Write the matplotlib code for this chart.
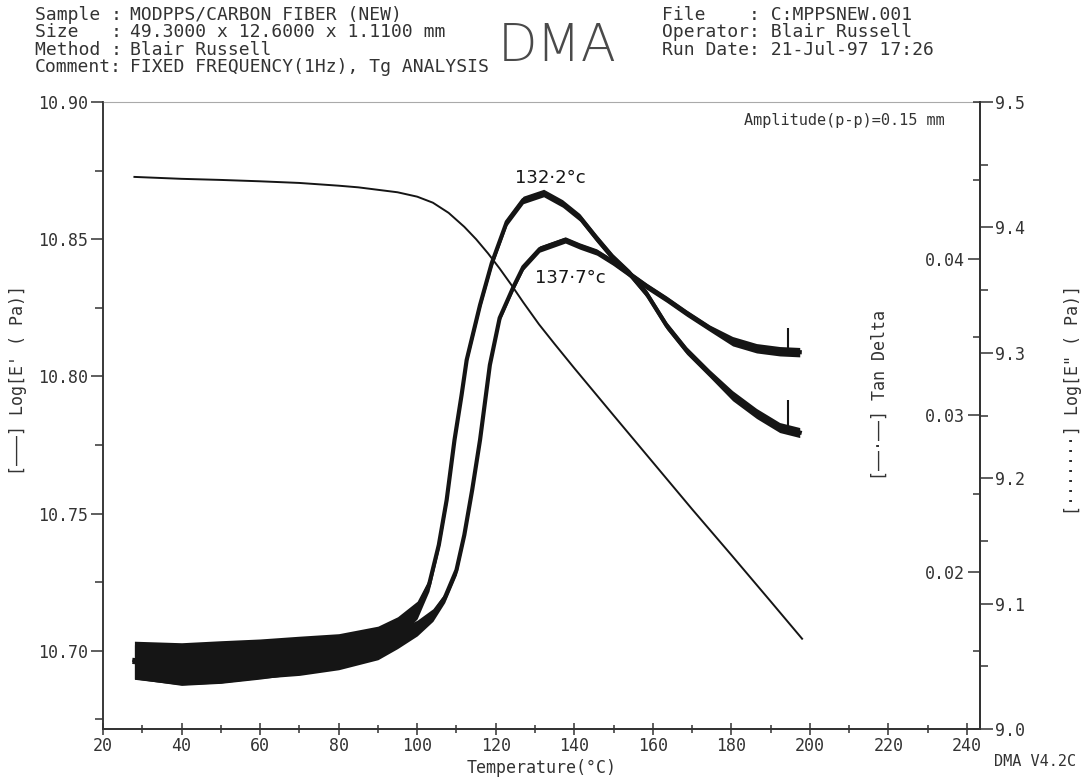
import numpy as np
import matplotlib
matplotlib.use("Agg")
import matplotlib.pyplot as plt
from matplotlib.ticker import MultipleLocator, FormatStrFormatter

# --- data read off the DMA print-out ---
# storage modulus, left axis
T_storage = [28, 40, 50, 60, 70, 80, 85, 90, 95, 100, 104, 108, 112, 115, 118,
             121, 124, 127, 131, 135, 140, 150, 160, 170, 180, 190, 198]
log_storage = [10.8727, 10.8720, 10.8716, 10.8711, 10.8705, 10.8695, 10.8689,
               10.8680, 10.8671, 10.8655, 10.8633, 10.8596, 10.8545, 10.8500,
               10.8449, 10.8393, 10.8333, 10.8270, 10.8190, 10.8118, 10.8030,
               10.7858, 10.7687, 10.7516, 10.7349, 10.7180, 10.7044]

# loss modulus, right axis (peak 132.2 C)
T_loss = [28, 40, 50, 60, 70, 80, 90, 95, 100, 103, 105.5, 107.5, 109.5, 111.3,
          112.6, 116, 119, 122.8, 127, 132.2, 137, 141.4, 145.7, 149.8, 154.1,
          158.4, 163.5, 168.6, 174.5, 180.3, 186.4, 192.3, 197.4]
log_loss = [9.0550, 9.0518, 9.0534, 9.0558, 9.0590, 9.0630, 9.0710, 9.0805,
            9.0949, 9.1148, 9.1467, 9.1826, 9.2305, 9.2663, 9.2943, 9.3381,
            9.3716, 9.4043, 9.4219, 9.4274, 9.4191, 9.4080, 9.3912, 9.3760,
            9.3632, 9.3472, 9.3217, 9.3018, 9.2834, 9.2658, 9.2516, 9.2404,
            9.2364]
loss_spread = [0.015, 0.017, 0.017, 0.016, 0.015, 0.013, 0.011, 0.009, 0.007,
               0.005, 0.004, 0.004, 0.003, 0.003, 0.003, 0.003, 0.003, 0.003,
               0.003, 0.003, 0.003, 0.003, 0.003, 0.003, 0.003, 0.003, 0.003,
               0.003, 0.003, 0.004, 0.004, 0.004, 0.004]

# tan delta (peak 137.7 C)
T_tan = [28, 40, 50, 60, 70, 80, 90, 95, 100, 104, 107, 110, 112, 114, 116,
         118.5, 121, 124.5, 127, 131.2, 137.7, 141.4, 145.7, 149.8, 154.1,
         158.4, 163.5, 168.6, 174.5, 180.3, 186.4, 192.3, 197.4]
tan_delta = [0.01427, 0.01402, 0.01414, 0.01433, 0.01452, 0.01478, 0.01522,
             0.01573, 0.01644, 0.01727, 0.01836, 0.02014, 0.02238, 0.02525,
             0.02844, 0.03322, 0.03622, 0.03820, 0.03947, 0.04062, 0.04120,
             0.04081, 0.04043, 0.03979, 0.03902, 0.03825, 0.03742, 0.03653,
             0.03557, 0.03474, 0.03429, 0.03410, 0.03404]
tan_spread = [0.0011, 0.0012, 0.0012, 0.0011, 0.0011, 0.0010, 0.0008, 0.0006,
              0.0005, 0.0004, 0.0003, 0.0003, 0.0002, 0.0002, 0.0002, 0.0002,
              0.0002, 0.0002, 0.0002, 0.0002, 0.0002, 0.0002, 0.0002, 0.0002,
              0.0002, 0.0002, 0.0002, 0.0002, 0.0002, 0.0003, 0.0003, 0.0003,
              0.0003]

# single-point glitches near the end of the run
T_glitch = 194.3
loss_glitch = [9.2390, 9.2625]
tan_glitch = [0.03408, 0.03560]

x_ticks = [20, 40, 60, 80, 100, 120, 140, 160, 180, 200, 220, 240]
header_keys = ["Sample :", "Size   :", "Method :", "Comment:"]
header_vals = ["MODPPS/CARBON FIBER (NEW)",
               "49.3000 x 12.6000 x 1.1100 mm",
               "Blair Russell",
               "FIXED FREQUENCY(1Hz), Tg ANALYSIS"]
header_right = ["File    : C:MPPSNEW.001",
                "Operator: Blair Russell",
                "Run Date: 21-Jul-97 17:26"]

ink = "#151515"
grey = "#333333"
plt.rcParams["font.family"] = "DejaVu Sans Mono"

fig = plt.figure(figsize=(10.86, 7.83), dpi=100)
W, H = 1086, 783
ax = fig.add_axes([103 / W, 1 - 729 / H, (980 - 103) / W, (729 - 102) / H])
ax2 = ax.twinx()
ax3 = ax.twinx()

# storage modulus
ax.plot(T_storage, log_storage, color=ink, lw=1.4)
ax.set_xlim(20, 243.3)
ax.set_ylim(10.6715, 10.90)

# loss modulus
lo = np.array(log_loss)
ax2.fill_between(T_loss, lo - np.array(loss_spread), lo + np.array(loss_spread),
                 color=ink, lw=0)
ax2.plot(T_loss, log_loss, color=ink, lw=3)
ax2.vlines(T_glitch, loss_glitch[0], loss_glitch[1], color=ink, lw=1.5)
ax2.set_ylim(9.0, 9.5)

# tan delta
td = np.array(tan_delta)
ax3.fill_between(T_tan, td - np.array(tan_spread), td + np.array(tan_spread),
                 color=ink, lw=0)
ax3.plot(T_tan, tan_delta, color=ink, lw=3)
ax3.vlines(T_glitch, tan_glitch[0], tan_glitch[1], color=ink, lw=1.5)
ax3.set_ylim(0.01, 0.05)

# spines / ticks
for a in (ax, ax2, ax3):
    for s in a.spines.values():
        s.set_color(grey)
        s.set_linewidth(1.1)
    a.spines["top"].set_visible(False)
ax.spines["top"].set_visible(True)
ax.spines["top"].set_color("#aaaaaa")
ax.spines["top"].set_linewidth(0.8)

ax.set_xticks(x_ticks)
ax.xaxis.set_minor_locator(MultipleLocator(10))
ax.tick_params(axis="x", which="major", direction="inout", length=9, width=1.1,
               labelsize=12, colors=grey, pad=1)
ax.tick_params(axis="x", which="minor", direction="inout", length=6, width=1.1,
               colors=grey)
ax.yaxis.set_major_locator(MultipleLocator(0.05))
ax.yaxis.set_minor_locator(MultipleLocator(0.025))
ax.yaxis.set_major_formatter(FormatStrFormatter("%.2f"))
ax.tick_params(axis="y", which="major", direction="out", length=9, width=1.1,
               labelsize=12, colors=grey, pad=2)
ax.tick_params(axis="y", which="minor", direction="out", length=6, width=1.1,
               colors=grey)

ax2.yaxis.set_major_locator(MultipleLocator(0.1))
ax2.yaxis.set_minor_locator(MultipleLocator(0.05))
ax2.yaxis.set_major_formatter(FormatStrFormatter("%.1f"))
ax2.tick_params(axis="y", which="major", direction="out", length=9, width=1.1,
                labelsize=12, colors=grey, pad=2)
ax2.tick_params(axis="y", which="minor", direction="out", length=6, width=1.1,
                colors=grey)

ax3.spines["left"].set_position(("axes", 1.0))
ax3.yaxis.set_ticks_position("left")
ax3.yaxis.set_label_position("left")
ax3.set_yticks([0.02, 0.03, 0.04])
ax3.yaxis.set_minor_locator(MultipleLocator(0.005))
ax3.yaxis.set_major_formatter(FormatStrFormatter("%.2f"))
ax3.tick_params(axis="y", which="major", direction="out", length=9, width=1.1,
                labelsize=12, colors=grey, pad=2)
ax3.tick_params(axis="y", which="minor", direction="out", length=5, width=1.1,
                colors=grey)

# axis titles
ax.set_xlabel("Temperature(°C)", fontsize=12, color=grey, labelpad=3)
fig.text(18 / W, 1 - 380 / H, "[———] Log[E' ( Pa)]", rotation=90,
         ha="center", va="center", fontsize=12, color=grey)
fig.text(880 / W, 1 - 395 / H, "[——·——] Tan Delta", rotation=90,
         ha="center", va="center", fontsize=12, color=grey)
fig.text(1073 / W, 1 - 400 / H, "[·······] Log[E\" ( Pa)]", rotation=90,
         ha="center", va="center", fontsize=12, color=grey)

# header block
for i, (k, v) in enumerate(zip(header_keys, header_vals)):
    y = 1 - (15 + 17.3 * i) / H
    fig.text(35 / W, y, k, ha="left", va="center", fontsize=13, color=grey)
    fig.text(130 / W, y, v, ha="left", va="center", fontsize=13, color=grey)
for i, line in enumerate(header_right):
    fig.text(662 / W, 1 - (15 + 17.3 * i) / H, line, ha="left", va="center",
             fontsize=13, color=grey)
fig.text(498 / W, 1 - 47 / H, "DMA", ha="left", va="center", fontsize=37,
         color="#4a4a4a", fontfamily="DejaVu Sans", fontweight="light")
fig.text(945 / W, 1 - 120 / H, "Amplitude(p-p)=0.15 mm", ha="right",
         va="center", fontsize=11, color=grey)
fig.text(1076 / W, 1 - 762 / H, "DMA V4.2C", ha="right", va="center",
         fontsize=11, color=grey)

# handwritten peak notes
ax2.text(133.8, 9.439, "132·2°c", ha="center", va="center", fontsize=13,
         color=ink, fontfamily="DejaVu Sans")
ax3.text(138.9, 0.03877, "137·7°c", ha="center", va="center", fontsize=13,
         color=ink, fontfamily="DejaVu Sans")

fig.savefig("out.png", dpi=100, facecolor="white")
